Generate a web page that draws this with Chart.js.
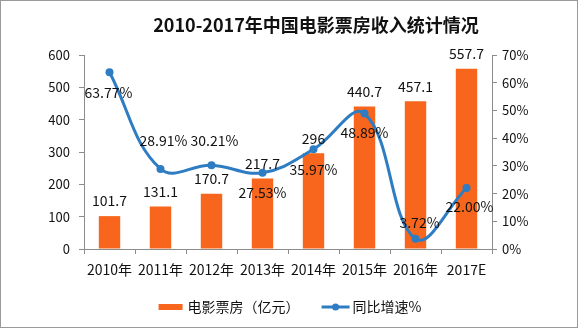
<!DOCTYPE html>
<html>
<head>
<meta charset="utf-8">
<script src="https://cdn.jsdelivr.net/npm/chart.js@4/dist/chart.umd.min.js"></script>
<style>
  html, body { margin: 0; padding: 0; background: #fff; }
  #wrap { width: 578px; height: 328px; }
</style>
</head>
<body>
<div id="wrap"><canvas id="boxChart" width="578" height="328"></canvas></div>
<script>
const years = ['2010年', '2011年', '2012年', '2013年', '2014年', '2015年', '2016年', '2017E'];
const boxOffice = [101.7, 131.1, 170.7, 217.7, 296, 440.7, 457.1, 557.7];
const growthRate = [63.77, 28.91, 30.21, 27.53, 35.97, 48.89, 3.72, 22.00];
const seriesNames = ['电影票房（亿元）', '同比增速%'];
const chartTitle = '2010-2017年中国电影票房收入统计情况';

const barColor = '#f7661c';
const lineColor = '#2e7cc2';
const axisColor = '#8c8c8c';
const fontFamily = '"Noto Sans CJK SC", "Noto Sans", sans-serif';

// where each growth label sits relative to its point
const growthLabelDx = [-1, 3, 3, 0, 0, 0, 4, 3];
const growthLabelDy = [20, -28, -25, 20, 20, 19, -16, 19];

const frame = {
    id: 'frame',
    beforeDraw(chart) {
        const ctx = chart.ctx;
        ctx.save();
        ctx.fillStyle = '#fff';
        ctx.fillRect(0, 0, chart.width, chart.height);
        ctx.restore();
    },
    afterDraw(chart) {
        const ctx = chart.ctx;
        ctx.save();
        // title (sits a little right of centre in the original)
        ctx.fillStyle = '#111';
        ctx.font = 'bold 18px ' + fontFamily;
        ctx.textAlign = 'center';
        ctx.textBaseline = 'middle';
        ctx.fillText(chartTitle, 316, 25);

        // legend
        ctx.font = '14px ' + fontFamily;
        ctx.textAlign = 'left';
        const ly = 307;
        const w1 = ctx.measureText(seriesNames[0]).width;
        const w2 = ctx.measureText(seriesNames[1]).width;
        const total = 24 + 5 + w1 + 22 + 28 + 3 + w2;
        let lx = 290 - total / 2;
        ctx.fillStyle = barColor;
        ctx.fillRect(lx, ly - 3, 24, 6);
        lx += 29;
        ctx.fillStyle = '#111';
        ctx.fillText(seriesNames[0], lx, ly);
        lx += w1 + 22;
        ctx.strokeStyle = lineColor;
        ctx.lineWidth = 3;
        ctx.beginPath(); ctx.moveTo(lx, ly); ctx.lineTo(lx + 28, ly); ctx.stroke();
        ctx.fillStyle = lineColor;
        ctx.beginPath(); ctx.arc(lx + 14, ly, 3.5, 0, Math.PI * 2); ctx.fill();
        lx += 31;
        ctx.fillStyle = '#111';
        ctx.fillText(seriesNames[1], lx, ly);

        // outer border
        ctx.strokeStyle = '#9a9a9a';
        ctx.lineWidth = 1;
        ctx.strokeRect(0.5, 0.5, chart.width - 1, chart.height - 1);
        ctx.restore();
    }
};

const valueLabels = {
    id: 'valueLabels',
    afterDatasetsDraw(chart) {
        const ctx = chart.ctx;
        ctx.save();
        ctx.font = '14px ' + fontFamily;
        ctx.fillStyle = '#111';
        ctx.textAlign = 'center';
        ctx.textBaseline = 'middle';
        chart.getDatasetMeta(0).data.forEach((bar, i) => {
            ctx.fillText(String(boxOffice[i]), bar.x, bar.y - 15);
        });
        chart.getDatasetMeta(1).data.forEach((pt, i) => {
            ctx.fillText(growthRate[i].toFixed(2) + '%', pt.x + growthLabelDx[i], pt.y + growthLabelDy[i]);
        });
        ctx.restore();
    }
};

const ctx = document.getElementById('boxChart').getContext('2d');
const boxChart = new Chart(ctx, {
    type: 'bar',
    data: {
        labels: years,
        datasets: [{
            type: 'bar',
            label: seriesNames[0],
            data: boxOffice,
            backgroundColor: barColor,
            yAxisID: 'y',
            order: 1,
            categoryPercentage: 1,
            barPercentage: 0.42
        }, {
            type: 'line',
            label: seriesNames[1],
            data: growthRate,
            borderColor: lineColor,
            backgroundColor: lineColor,
            borderWidth: 3,
            pointRadius: 4,
            pointBackgroundColor: lineColor,
            pointBorderWidth: 0,
            tension: 0.4,
            yAxisID: 'y1',
            order: 0
        }]
    },
    options: {
        responsive: false,
        animation: false,
        layout: { padding: { top: 55, bottom: 0, left: 0, right: 0 } },
        scales: {
            x: {
                offset: true,
                grid: { offset: true, drawOnChartArea: false, tickLength: 5, color: axisColor },
                border: { color: axisColor },
                ticks: { color: '#111', font: { family: fontFamily, size: 14 }, padding: 7, maxRotation: 0 },
                afterFit(scale) { scale.height = 79; }
            },
            y: {
                position: 'left',
                min: 0,
                max: 600,
                ticks: { stepSize: 100, color: '#111', font: { family: fontFamily, size: 13 }, padding: 9 },
                grid: { drawOnChartArea: false, tickLength: 5, color: axisColor },
                border: { color: axisColor },
                afterFit(scale) { scale.width = 84; }
            },
            y1: {
                position: 'right',
                min: 0,
                max: 70,
                ticks: {
                    stepSize: 10,
                    color: '#111',
                    font: { family: fontFamily, size: 13 },
                    padding: 5,
                    callback: v => v + '%'
                },
                grid: { drawOnChartArea: false, tickLength: 5, color: axisColor },
                border: { color: axisColor },
                afterFit(scale) { scale.width = 86; }
            }
        },
        plugins: {
            title: { display: false },
            legend: { display: false },
            tooltip: { enabled: false }
        }
    },
    plugins: [frame, valueLabels]
});
</script>
</body>
</html>
